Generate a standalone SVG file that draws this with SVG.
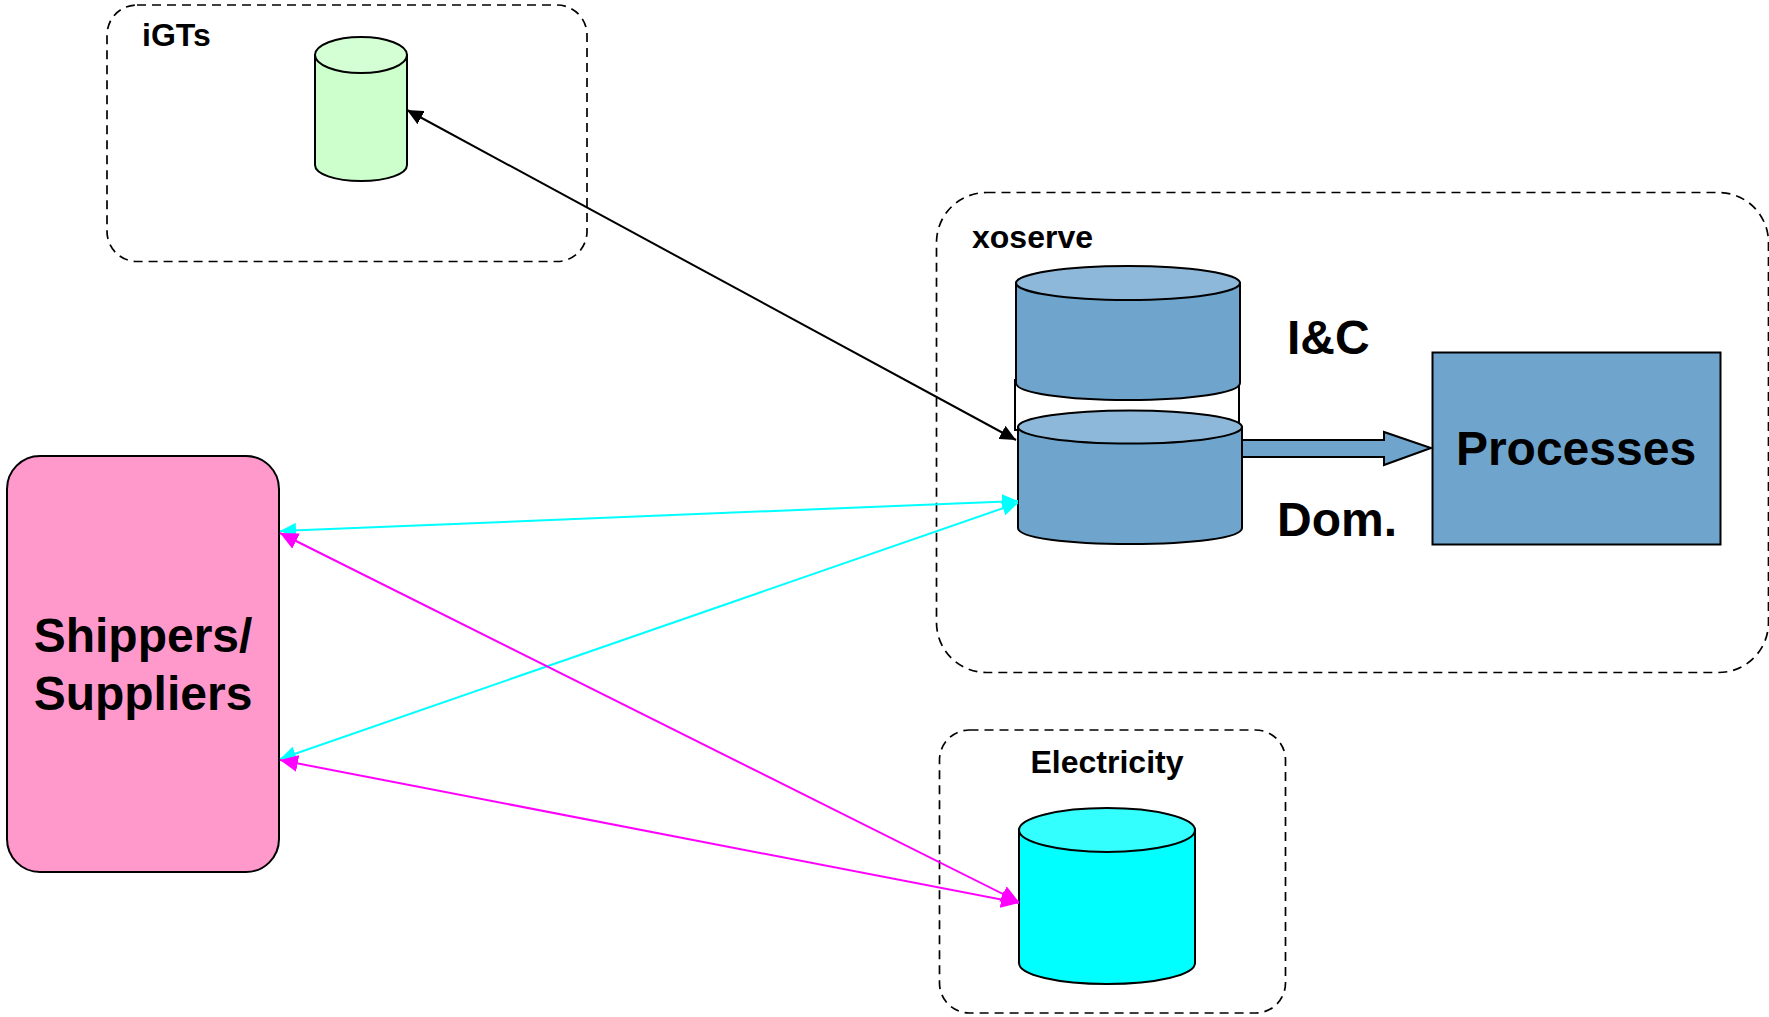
<svg xmlns="http://www.w3.org/2000/svg" width="1769" height="1017" viewBox="0 0 1769 1017">
<style>
text{font-family:"Liberation Sans",Arial,sans-serif;font-weight:bold;fill:#000}
.grp{fill:none;stroke:#000;stroke-width:1.7;stroke-dasharray:9 6}
.s{stroke:#000;stroke-width:2}
.l{fill:none;stroke-width:2}
.blue{fill:#6fa5cd}.bluet{fill:#8db8d9}
</style>
<defs>
<marker id="ak" markerUnits="userSpaceOnUse" markerWidth="17" markerHeight="15" refX="16" refY="7.500" orient="auto-start-reverse"><path d="M0 0L16 7.500L0 15Z" fill="#000"/></marker>
<marker id="ac" markerUnits="userSpaceOnUse" markerWidth="17" markerHeight="15" refX="16" refY="7.500" orient="auto-start-reverse"><path d="M0 0L16 7.500L0 15Z" fill="#0ff"/></marker>
<marker id="am" markerUnits="userSpaceOnUse" markerWidth="19" markerHeight="17" refX="18" refY="8.500" orient="auto-start-reverse"><path d="M0 0L18 8.500L0 17Z" fill="#f0f"/></marker>
</defs>
<rect width="1769" height="1017" fill="#fff"/>
<g id="igts">
<rect class="grp" x="107" y="5" width="480" height="256.500" rx="30"/>
<text x="142" y="46" font-size="32">iGTs</text>
<path class="s" fill="#cfc" d="M315 55V165C315 174 335 181 361 181S407 174 407 165V55Z"/>
<ellipse class="s" fill="#d4ffd4" cx="361" cy="55" rx="46" ry="18"/>
</g>
<g id="xoserve">
<rect class="grp" x="936.500" y="192.500" width="832" height="480" rx="50"/>
<text x="972" y="248" font-size="32">xoserve</text>
<path class="s" fill="#fff" d="M1015 379V430H1239V379"/>
<path class="s blue" d="M1016 283V383C1016 393 1066 400 1128 400S1240 393 1240 383V283Z"/>
<ellipse class="s bluet" cx="1128" cy="283" rx="112" ry="17"/>
<text x="1287" y="354" font-size="48">I&amp;C</text>
<path class="s blue" d="M1018 427V528C1018 538 1068 544 1130 544S1242 538 1242 528V427Z"/>
<ellipse class="s bluet" cx="1130" cy="427" rx="112" ry="16.500"/>
<text x="1277" y="536" font-size="48">Dom.</text>
</g>
<g id="electricity">
<rect class="grp" x="939.500" y="730" width="346" height="283" rx="30"/>
<text x="1107" y="773" font-size="32" text-anchor="middle">Electricity</text>
<path class="s" fill="#0ff" d="M1019 830V963C1019 975 1058 984 1107 984S1195 975 1195 963V830Z"/>
<ellipse class="s" fill="#3ff" cx="1107" cy="830" rx="88" ry="22"/>
</g>
<g id="processes">
<rect class="s blue" x="1432.500" y="352.500" width="288" height="192"/>
<text x="1576" y="465" font-size="48" text-anchor="middle">Processes</text>
</g>
<g id="shippers">
<rect class="s" fill="#f9c" x="7" y="456" width="272" height="416" rx="33"/>
<text font-size="48" text-anchor="middle"><tspan x="143" y="652">Shippers/</tspan><tspan x="143" y="710">Suppliers</tspan></text>
</g>
<g id="connectors">
<path class="s blue" d="M1242 440H1384V432L1431 448L1384 465V457H1242Z"/>
<line class="l" stroke="#000" x1="407" y1="110" x2="1016" y2="440" marker-start="url(#ak)" marker-end="url(#ak)"/>
<line class="l" stroke="#0ff" x1="280" y1="531" x2="1018" y2="501" marker-start="url(#ac)" marker-end="url(#ac)"/>
<line class="l" stroke="#0ff" x1="280" y1="759" x2="1018" y2="503" marker-start="url(#ac)" marker-end="url(#ac)"/>
<line class="l" stroke="#f0f" x1="280" y1="533" x2="1019" y2="902" marker-start="url(#am)" marker-end="url(#am)"/>
<line class="l" stroke="#f0f" x1="280" y1="760" x2="1019" y2="903" marker-start="url(#am)" marker-end="url(#am)"/>
</g>
</svg>
